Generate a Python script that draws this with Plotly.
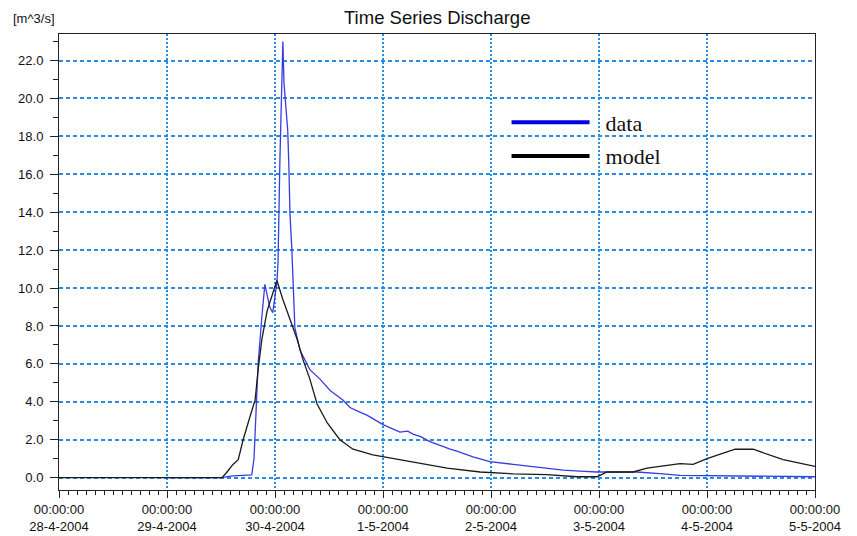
import plotly.graph_objects as go

# ---- data: observed discharge ----
data_time = ["2004-04-29 00:00", "2004-04-29 12:00", "2004-04-29 14:40", "2004-04-29 17:00",
             "2004-04-29 18:50", "2004-04-29 19:20", "2004-04-29 20:15", "2004-04-29 21:05",
             "2004-04-29 21:45", "2004-04-29 22:50", "2004-04-29 23:30", "2004-04-30 00:25",
             "2004-04-30 00:40", "2004-04-30 01:05", "2004-04-30 01:35", "2004-04-30 01:45",
             "2004-04-30 02:00", "2004-04-30 02:25", "2004-04-30 02:50", "2004-04-30 03:05",
             "2004-04-30 03:20", "2004-04-30 03:45", "2004-04-30 04:00", "2004-04-30 04:25",
             "2004-04-30 05:35", "2004-04-30 07:45", "2004-04-30 10:00", "2004-04-30 12:15",
             "2004-04-30 15:05", "2004-04-30 16:40", "2004-04-30 18:30", "2004-04-30 20:25",
             "2004-05-01 00:00", "2004-05-01 03:45", "2004-05-01 05:30", "2004-05-01 06:40",
             "2004-05-01 08:30", "2004-05-01 10:25", "2004-05-01 14:55", "2004-05-01 16:25",
             "2004-05-01 20:00", "2004-05-01 23:45", "2004-05-02 04:55", "2004-05-02 08:40",
             "2004-05-02 12:25", "2004-05-02 16:00", "2004-05-02 19:45", "2004-05-02 23:35",
             "2004-05-03 08:25", "2004-05-03 11:20", "2004-05-03 14:15", "2004-05-03 18:00",
             "2004-05-04 05:05", "2004-05-04 12:25", "2004-05-04 18:00", "2004-05-05 00:00"]
data_value = [0.0, 0.0, 0.1, 0.12,
              0.15, 1.0, 6.0, 8.5,
              10.2, 9.0, 8.7, 10.3,
              11.3, 16.7, 20.6, 23.0,
              20.8, 19.5, 18.3, 16.4,
              13.9, 12.0, 10.4, 7.9,
              6.7, 5.7, 5.2, 4.6,
              4.1, 3.7, 3.5, 3.3,
              2.8, 2.4, 2.45, 2.3,
              2.15, 1.9, 1.5, 1.4,
              1.1, 0.85, 0.7, 0.6,
              0.5, 0.4, 0.35, 0.3,
              0.3, 0.26, 0.2, 0.12,
              0.1, 0.07, 0.08, 0.05]

# ---- model: simulated discharge ----
model_time = ["2004-04-28 00:00", "2004-04-29 12:15", "2004-04-29 13:20", "2004-04-29 14:40",
              "2004-04-29 15:50", "2004-04-29 16:55", "2004-04-29 18:25", "2004-04-29 19:35",
              "2004-04-29 20:15", "2004-04-29 21:05", "2004-04-29 22:15", "2004-04-29 23:20",
              "2004-04-30 00:25", "2004-04-30 01:45", "2004-04-30 03:20", "2004-04-30 04:55",
              "2004-04-30 06:15", "2004-04-30 07:45", "2004-04-30 09:20", "2004-04-30 11:35",
              "2004-04-30 14:25", "2004-04-30 17:20", "2004-04-30 21:45", "2004-05-01 03:45",
              "2004-05-01 06:40", "2004-05-01 14:15", "2004-05-01 21:35", "2004-05-02 04:55",
              "2004-05-02 12:25", "2004-05-02 19:05", "2004-05-02 23:35", "2004-05-03 01:45",
              "2004-05-03 07:35", "2004-05-03 10:40", "2004-05-03 18:00", "2004-05-03 20:55",
              "2004-05-04 00:00", "2004-05-04 06:15", "2004-05-04 10:15", "2004-05-04 16:55",
              "2004-05-05 00:00"]
model_value = [0.0, 0.0, 0.3, 0.7,
               0.95, 2.0, 3.2, 4.1,
               5.7, 7.3, 8.8, 9.6,
               10.4, 9.4, 8.3, 7.3,
               6.2, 5.2, 3.9, 2.9,
               2.0, 1.5, 1.2, 0.95,
               0.8, 0.5, 0.3, 0.2,
               0.16, 0.05, 0.05, 0.3,
               0.3, 0.5, 0.74, 0.7,
               1.0, 1.5, 1.5, 0.95,
               0.6]

tick_dates = ["2004-04-28", "2004-04-29", "2004-04-30", "2004-05-01",
              "2004-05-02", "2004-05-03", "2004-05-04", "2004-05-05"]
tick_labels = ["00:00:00<br>28-4-2004", "00:00:00<br>29-4-2004", "00:00:00<br>30-4-2004",
               "00:00:00<br>1-5-2004", "00:00:00<br>2-5-2004", "00:00:00<br>3-5-2004",
               "00:00:00<br>4-5-2004", "00:00:00<br>5-5-2004"]

BLUE = "#3a3ae0"
GRID = "rgb(40,140,225)"
NB = "\u00a0"

fig = go.Figure()
fig.add_trace(go.Scatter(x=data_time, y=data_value, mode="lines", name="data",
                         line=dict(color=BLUE, width=1.3), showlegend=False))
fig.add_trace(go.Scatter(x=model_time, y=model_value, mode="lines", name="model",
                         line=dict(color="#1a1a1a", width=1.3), showlegend=False))
# legend entries (thicker lines like the reference legend)
fig.add_trace(go.Scatter(x=[None], y=[None], mode="lines", name=NB * 2 + "data", legendgroup="a",
                         line=dict(color="#0000e6", width=4)))
fig.add_trace(go.Scatter(x=[None], y=[None], mode="lines", name=NB * 2 + "model", legendgroup="b",
                         line=dict(color="#000000", width=4)))

# the page body has an 8px margin, so the figure is offset by 8px in the window
fig.update_layout(
    width=849, height=528,
    margin=dict(l=51, r=42, t=26, b=46),
    paper_bgcolor="white", plot_bgcolor="white",
    font=dict(family="Liberation Sans, Arial", size=13, color="#111"),
    legend=dict(x=0.592, y=0.852, xanchor="left", yanchor="top", bgcolor="rgba(0,0,0,0)",
                font=dict(family="Liberation Serif, Times New Roman", size=22, color="#111"),
                itemwidth=78, tracegroupgap=2, traceorder="grouped"),
    annotations=[
        dict(text="[m^3/s]", xref="paper", yref="paper", x=-0.063, y=1.035,
             xanchor="left", yanchor="middle", showarrow=False,
             font=dict(family="Liberation Sans, Arial", size=13, color="#111")),
        dict(text="Time Series Discharge", xref="paper", yref="paper", x=0.5, y=1.037,
             xanchor="center", yanchor="middle", showarrow=False,
             font=dict(family="Liberation Sans, Arial", size=18.5, color="#111")),
    ],
)

fig.update_xaxes(
    type="date", range=["2004-04-28", "2004-05-05"], automargin=False,
    tickvals=tick_dates, ticktext=tick_labels,
    ticks="outside", ticklen=7, tickcolor="#222", tickwidth=1,
    showline=True, linecolor="#222", linewidth=1, mirror=True,
    showgrid=True, gridcolor=GRID, griddash="2px,2px", gridwidth=1.5,
    minor=dict(dtick=7200000, ticks="outside", ticklen=4, tickcolor="#222",
               showgrid=False, gridcolor="white"),
    zeroline=False,
)
fig.update_yaxes(
    range=[-0.65, 23.4], dtick=2, tick0=0, tickformat=".1f", automargin=False,
    ticks="outside", ticklen=8, tickcolor="#222", tickwidth=1, ticklabelstandoff=4,
    showline=True, linecolor="#222", linewidth=1, mirror=True,
    showgrid=True, gridcolor=GRID, griddash="4px,3px", gridwidth=1.5,
    minor=dict(dtick=1, ticks="outside", ticklen=5, tickcolor="#222",
               showgrid=False, gridcolor="white"),
    zeroline=False,
)

fig.write_html("out.html")
